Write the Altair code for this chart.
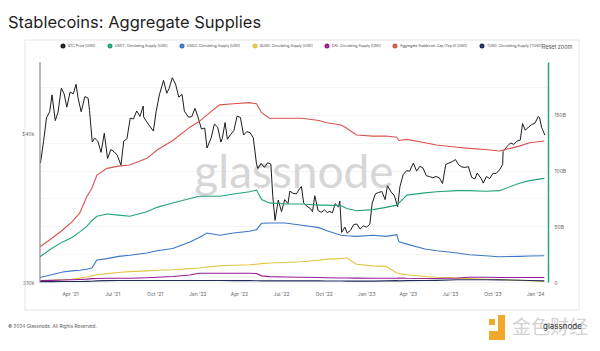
import altair as alt
import pandas as pd

series_names = [
    "BTC Price [USD]",
    "USDT: Circulating Supply [USD]",
    "USDC: Circulating Supply [USD]",
    "BUSD: Circulating Supply [USD]",
    "DAI: Circulating Supply [USD]",
    "Aggregate Stablecoin Cap (Top 5) [USD]",
    "TUSD: Circulating Supply [TUSD]",
]
series_colors = ["#1c1c1c", "#23a27e", "#3a78c5", "#e2c545", "#951c95", "#d9534f", "#252a5e"]

btc_dates = [
    "2021-01-27","2021-02-03","2021-02-09","2021-02-16","2021-02-21","2021-02-28","2021-03-06","2021-03-13","2021-03-19","2021-03-25",
    "2021-04-01","2021-04-08","2021-04-14","2021-04-18","2021-04-25","2021-05-03","2021-05-10","2021-05-13","2021-05-19","2021-05-24",
    "2021-05-31","2021-06-07","2021-06-14","2021-06-21","2021-06-28","2021-07-05","2021-07-12","2021-07-20","2021-07-26","2021-08-02",
    "2021-08-09","2021-08-16","2021-08-23","2021-08-30","2021-09-06","2021-09-07","2021-09-13","2021-09-20","2021-09-28","2021-10-04",
    "2021-10-11","2021-10-20","2021-10-27","2021-11-01","2021-11-08","2021-11-15","2021-11-22","2021-11-29","2021-12-04","2021-12-13",
    "2021-12-20","2021-12-27","2022-01-03","2022-01-10","2022-01-17","2022-01-22","2022-01-31","2022-02-07","2022-02-14","2022-02-21",
    "2022-02-24","2022-03-02","2022-03-07","2022-03-14","2022-03-21","2022-03-28","2022-04-04","2022-04-11","2022-04-18","2022-04-25",
    "2022-05-02","2022-05-09","2022-05-12","2022-05-19","2022-05-26","2022-06-02","2022-06-09","2022-06-13","2022-06-18","2022-06-25",
    "2022-07-02","2022-07-09","2022-07-16","2022-07-20","2022-07-27","2022-08-03","2022-08-10","2022-08-14","2022-08-19","2022-08-26",
    "2022-09-02","2022-09-07","2022-09-12","2022-09-19","2022-09-26","2022-10-03","2022-10-10","2022-10-13","2022-10-20","2022-10-26",
    "2022-11-02","2022-11-05","2022-11-09","2022-11-16","2022-11-21","2022-11-28","2022-12-05","2022-12-12","2022-12-19","2022-12-26",
    "2023-01-02","2023-01-09","2023-01-14","2023-01-21","2023-01-28","2023-02-04","2023-02-11","2023-02-16","2023-02-24","2023-03-03",
    "2023-03-10","2023-03-15","2023-03-22","2023-03-29","2023-04-05","2023-04-13","2023-04-20","2023-04-27","2023-05-04","2023-05-11",
    "2023-05-18","2023-05-25","2023-06-01","2023-06-08","2023-06-15","2023-06-22","2023-06-29","2023-07-06","2023-07-13","2023-07-20",
    "2023-07-27","2023-08-03","2023-08-10","2023-08-17","2023-08-24","2023-08-29","2023-09-07","2023-09-11","2023-09-18","2023-09-25",
    "2023-10-02","2023-10-09","2023-10-16","2023-10-23","2023-10-24","2023-11-01","2023-11-09","2023-11-16","2023-11-23","2023-11-30",
    "2023-12-05","2023-12-11","2023-12-18","2023-12-25","2024-01-01","2024-01-08","2024-01-11","2024-01-15","2024-01-18","2024-01-22",
]
btc_k = [
    30.4, 37.6, 46.4, 49.2, 57.5, 45.2, 48.9, 61.2, 58.1, 51.3,
    59.0, 58.1, 63.5, 56.2, 49.1, 56.6, 55.8, 49.7, 37.0, 38.4,
    37.3, 33.6, 40.2, 31.7, 34.5, 33.8, 32.7, 29.8, 37.3, 38.2,
    46.3, 45.9, 49.5, 47.0, 51.8, 46.8, 44.9, 43.0, 41.0, 49.2,
    57.5, 65.9, 58.4, 61.0, 67.5, 63.6, 56.3, 57.8, 49.4, 46.7,
    46.9, 50.7, 46.4, 41.8, 42.2, 35.0, 38.5, 43.8, 42.5, 37.0,
    38.3, 44.4, 38.0, 39.7, 41.2, 47.1, 46.6, 39.5, 40.8, 40.4,
    38.5, 30.1, 28.9, 30.3, 29.2, 30.5, 30.1, 22.5, 17.8, 21.5,
    19.3, 21.6, 20.8, 23.4, 22.9, 22.8, 23.9, 24.4, 20.9, 20.3,
    19.9, 19.3, 22.4, 19.5, 19.2, 19.6, 19.1, 19.4, 19.1, 20.8,
    20.2, 21.3, 15.9, 16.7, 15.8, 16.2, 17.1, 17.2, 16.4, 16.9,
    16.7, 17.2, 20.9, 22.8, 23.1, 23.3, 21.6, 24.6, 23.2, 22.4,
    20.2, 24.4, 27.3, 28.3, 28.2, 30.4, 28.2, 29.5, 29.0, 27.0,
    26.8, 26.5, 26.8, 26.5, 25.1, 30.0, 30.4, 30.8, 31.4, 29.9,
    29.3, 29.2, 29.4, 26.6, 26.2, 27.7, 26.2, 25.2, 26.8, 26.3,
    27.6, 27.6, 28.5, 30.0, 33.9, 35.4, 36.7, 36.2, 37.3, 37.7,
    44.0, 41.3, 42.6, 43.6, 44.2, 47.0, 46.3, 42.5, 41.3, 39.5,
]

supply_dates = [
    "2021-01-26","2021-02-20","2021-03-16","2021-04-05","2021-04-22","2021-05-07","2021-05-18","2021-05-29","2021-06-20","2021-07-15",
    "2021-08-08","2021-09-14","2021-10-06","2021-11-09","2021-12-16","2022-01-05","2022-01-22","2022-02-18","2022-03-20","2022-04-24",
    "2022-05-09","2022-05-20","2022-06-06","2022-07-10","2022-08-15","2022-09-21","2022-10-08","2022-11-08","2022-11-20","2022-12-11",
    "2023-01-16","2023-02-13","2023-03-08","2023-03-13","2023-03-30","2023-05-08","2023-06-02","2023-07-17","2023-08-12","2023-09-15",
    "2023-10-16","2023-11-28","2023-12-20","2024-01-21",
]
# billions USD
usdt = [22.7, 30, 36, 40, 45, 50, 55, 59, 61, 60,
        59, 63, 67, 71, 75, 77, 77, 77, 79, 81,
        82.5, 74, 71, 70, 70, 69, 69, 68.5, 66, 64,
        65, 67, 69, 71, 78, 80, 81, 82, 82, 81.5,
        82, 88.6, 91, 93]
usdc = [4, 6.5, 9, 10, 10.5, 11.5, 12.5, 19.7, 21, 23,
        24, 26, 28, 30, 36, 40, 44, 42, 44, 45.5,
        47, 52.7, 53, 53, 51, 48.8, 46, 42, 41.5, 41,
        42, 41, 42.5, 36, 34, 29.6, 28, 26, 24.5, 23.5,
        22.7, 23, 23.3, 23.6]
busd = [1, 1.5, 2, 2.5, 3.5, 4.5, 5.5, 6.5, 7.5, 8.5,
        9.3, 10, 10.5, 11, 12, 12.5, 13.5, 14.5, 15, 15.5,
        16, 16.5, 17, 17.5, 18.2, 19.5, 20.5, 21, 21.5, 16,
        14.5, 14, 8, 7.5, 6.5, 5, 4.2, 3.5, 3, 2.5,
        2.2, 1.5, 1.2, 0.8]
dai = [1.2, 1.5, 1.8, 2.0, 2.3, 2.6, 3.0, 3.2, 3.3, 3.3,
       3.3, 3.8, 4.2, 5.0, 6.3, 7.8, 7.8, 7.8, 7.8, 7.8,
       7.6, 5.5, 4.8, 4.5, 4.2, 4.0, 3.8, 3.6, 3.6, 3.5,
       3.4, 3.3, 3.3, 3.5, 3.3, 3.2, 3.2, 3.6, 4.2, 4.2,
       4.0, 4.0, 4.0, 4.0]
aggregate = [31.7, 39, 46.7, 54, 62, 76.6, 84, 96, 102, 104,
             105, 111, 118.5, 127, 139, 144, 150, 159, 160, 161,
             160, 152, 147, 147, 147, 145, 143, 141, 138, 132,
             131, 131, 130, 127, 128, 125, 123, 121, 120, 119,
             117.6, 122, 125, 126.6]
tusd = [0.3, 0.3, 0.4, 0.5, 0.5, 0.6, 0.7, 1.0, 1.2, 1.3,
        1.3, 1.3, 1.3, 1.3, 1.3, 1.3, 1.3, 1.3, 1.2, 1.2,
        1.1, 1.0, 1.0, 1.0, 1.0, 1.0, 0.9, 0.9, 0.8, 0.8,
        0.8, 1.0, 1.2, 1.0, 1.2, 1.3, 1.5, 2.0, 2.0, 2.0,
        1.9, 1.6, 1.3, 1.0]

x_ticks = ["2021-04-01","2021-07-01","2021-10-01","2022-01-01","2022-04-01","2022-07-01",
           "2022-10-01","2023-01-01","2023-04-01","2023-07-01","2023-10-01","2024-01-01"]

# ---- tables ----
btc_df = pd.DataFrame({"date": btc_dates, "value": [v * 1000 for v in btc_k], "series": series_names[0]})
sup_rows = []
for name, vals in [(series_names[1], usdt), (series_names[2], usdc), (series_names[3], busd),
                   (series_names[4], dai), (series_names[5], aggregate), (series_names[6], tusd)]:
    for d, v in zip(supply_dates, vals):
        sup_rows.append({"date": d, "value": v, "series": name})
sup_df = pd.DataFrame(sup_rows)

def dt(s):
    y, m, d = s.split("-")
    return alt.DateTime(year=int(y), month=int(m), date=int(d))

FONT = "Inter"
x_scale = alt.Scale(domain=[dt("2021-01-26"), dt("2024-01-29")])
x_enc = alt.X("date:T", scale=x_scale,
              axis=alt.Axis(values=[dt(s) for s in x_ticks], format="%b '%y", title=None,
                            domain=False, ticks=False, grid=False, labelFontSize=5,
                            labelColor="#666", labelPadding=9, labelFont=FONT))
legend = alt.Legend(orient="none", legendX=20, legendY=-19, direction="horizontal", title=None,
                    symbolType="circle", symbolSize=8, symbolStrokeWidth=2.2, labelFontSize=3.5,
                    labelColor="#444", labelFont=FONT, columnPadding=8, labelOffset=2, padding=0)
color_enc = alt.Color("series:N", scale=alt.Scale(domain=series_names, range=series_colors), legend=legend)

btc = alt.Chart(btc_df).mark_line(strokeWidth=1.0).encode(
    x=x_enc,
    y=alt.Y("value:Q", scale=alt.Scale(type="log", domain=[10000, 78200]),
            axis=alt.Axis(orient="left", title=None, values=[10000, 40000],
                          labelExpr="'$' + datum.value / 1000 + 'k'",
                          grid=False, ticks=False, domain=False,
                          labelFontSize=5, labelColor="#666", labelPadding=6, labelFont=FONT)),
    color=color_enc,
)

supply = alt.Chart(sup_df).mark_line(strokeWidth=1.1).encode(
    x=x_enc,
    y=alt.Y("value:Q", scale=alt.Scale(domain=[0, 197.5]),
            axis=alt.Axis(orient="right", title=None, values=[0, 25, 50, 75, 100, 125, 150, 175],
                          labelExpr="datum.value == 0 ? '0' : (datum.value % 50 == 0 ? datum.value + 'B' : '')",
                          grid=True, gridColor="#f1f1f1", gridWidth=0.8, ticks=False,
                          domainColor="#25a585", domainWidth=1.5, labelFontSize=5, labelColor="#666",
                          labelPadding=6, labelFont=FONT)),
    color=color_enc,
    detail="series:N",
)

one = pd.DataFrame({"k": [0]})

left_line = alt.Chart(one).mark_rule(color="#8c8c8c", strokeWidth=1.2).encode(
    x=alt.value(0), y=alt.value(0), y2=alt.value(221))

frame = alt.Chart(one).mark_rect(fillOpacity=0, stroke="#e6e6e6", strokeWidth=1).encode(
    x=alt.value(-15), x2=alt.value(539), y=alt.value(-22), y2=alt.value(248))

watermark = alt.Chart(one).mark_text(fontSize=46, font="Lato", color="#d6d6d6", align="center",
                                     baseline="middle").encode(
    x=alt.value(254), y=alt.value(112), text=alt.value("glassnode"))

title = alt.Chart(one).mark_text(fontSize=16.5, font=FONT, color="#1f1f1f", align="left",
                                 baseline="alphabetic").encode(
    x=alt.value(-32), y=alt.value(-34), text=alt.value("Stablecoins: Aggregate Supplies"))

reset = alt.Chart(one).mark_text(fontSize=5.5, font=FONT, color="#555", align="center",
                                 baseline="middle").encode(
    x=alt.value(517), y=alt.value(-15), text=alt.value("Reset zoom"))

footer = alt.Chart(one).mark_text(fontSize=4.7, font=FONT, color="#555", align="left",
                                  baseline="middle").encode(
    x=alt.value(-32), y=alt.value(265), text=alt.value("© 2024 Glassnode. All Rights Reserved."))

logo_a = alt.Chart(one).mark_rect(color="#f2a92b").encode(
    x=alt.value(449), x2=alt.value(455), y=alt.value(257), y2=alt.value(263))
logo_b = alt.Chart(one).mark_rect(color="#f2a92b").encode(
    x=alt.value(458), x2=alt.value(465), y=alt.value(253), y2=alt.value(278))
logo_c = alt.Chart(one).mark_rect(color="#f2a92b").encode(
    x=alt.value(449), x2=alt.value(465), y=alt.value(269), y2=alt.value(278))
logo_cn = alt.Chart(one).mark_text(fontSize=19, font="Noto Sans CJK SC", color="#d2d2d2", align="left",
                                   baseline="middle").encode(
    x=alt.value(472), y=alt.value(266), text=alt.value("金色财经"))
logo_gn = alt.Chart(one).mark_text(fontSize=8, font=FONT, color="#333", align="left",
                                   baseline="middle").encode(
    x=alt.value(503), y=alt.value(265), text=alt.value("glassnode"))

chart = alt.layer(
    frame, watermark, btc, supply, left_line, title, reset, footer, logo_a, logo_b, logo_c, logo_cn, logo_gn
).resolve_scale(y="independent").properties(
    width=508, height=220,
    padding={"left": 40, "top": 62, "right": 52, "bottom": 69},
    autosize=alt.AutoSizeParams(type="none"),
    background="white",
).configure_view(stroke=None)

chart.save("out.html", embed_options={"renderer": "svg", "actions": False})
